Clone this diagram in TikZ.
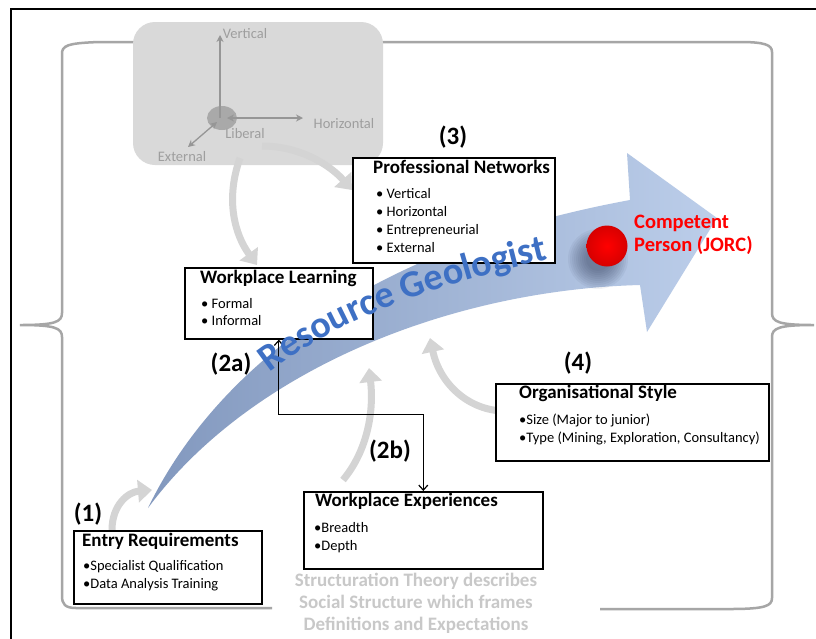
\documentclass[tikz,border=0pt]{standalone}
\usepackage{fontspec}
\setmainfont{Carlito}
\usetikzlibrary{arrows.meta,decorations.text}
\definecolor{frameg}{RGB}{166,166,166}
\definecolor{panelg}{RGB}{217,217,217}
\definecolor{paneltxt}{RGB}{158,158,158}
\definecolor{axisg}{RGB}{150,150,150}
\definecolor{arrowg}{RGB}{212,212,212}
\definecolor{blueA}{RGB}{130,152,190}
\definecolor{blueB}{RGB}{188,206,234}
\definecolor{rgblue}{RGB}{62,112,196}
\definecolor{structg}{RGB}{200,200,200}
\definecolor{shadowc}{RGB}{40,50,80}
\begin{document}
\begin{tikzpicture}[x=1pt,y=-1pt,
  box/.style={draw=black, line width=1.6pt, fill=white, inner sep=0pt, anchor=north west},
  ttl/.style={font=\fontsize{19}{21}\selectfont\bfseries, anchor=base west, inner sep=0pt},
  itm/.style={font=\fontsize{14.5}{16}\selectfont, anchor=base west, inner sep=0pt},
  num/.style={font=\fontsize{25}{27}\selectfont\bfseries, inner sep=0pt},
  garrow/.style={draw=arrowg, line width=7pt, -{Triangle[width=22pt,length=14pt]}},
  conn/.style={draw=black, line width=1.2pt, {Straight Barb[length=5pt,width=9pt]}-{Straight Barb[length=5pt,width=9pt]}},
  ptxt/.style={text=paneltxt, font=\fontsize{14.5}{16}\selectfont, inner sep=0pt},
  paxis/.style={draw=axisg, line width=1.3pt, -{Stealth[length=7pt,width=7pt]}},
  paxis2/.style={draw=axisg, line width=1.3pt, {Stealth[length=7pt,width=7pt]}-{Stealth[length=7pt,width=7pt]}},
  redtext/.style={font=\fontsize{20.5}{22}\selectfont\bfseries, text=red, anchor=base west, inner sep=0pt}
]
\useasboundingbox (0,0) rectangle (816,638);
\fill[white] (0,0) rectangle (816,638);
% outer frame
\draw[line width=1.5pt] (11,660) -- (11,9) -- (840,9);
% big gray bracket
\draw[frameg, line width=2.5pt] (272,608) -- (76,608) .. controls (65,608) and (62,604) .. (62,596)
  -- (62,337) .. controls (62,328) and (55,325) .. (20,325) .. controls (55,325) and (62,322) .. (62,313)
  -- (62,54) .. controls (62,46) and (66,43) .. (100,42) -- (740,42)
  .. controls (765,42) and (772,45) .. (772,52) -- (772,313)
  .. controls (772,322) and (779,325) .. (814,325) .. controls (779,325) and (772,328) .. (772,337)
  -- (772,598) .. controls (772,606) and (765,609) .. (730,609) -- (600,609);
% gray panel
\fill[panelg, rounded corners=22pt] (133,22) rectangle (383,165);
\coordinate (o) at (220,118);
\fill[axisg, opacity=.7] (222,118) ellipse (15pt and 12pt);
\draw[paxis] (o) -- (220,35);
\draw[paxis2] (227,118) -- (303,118);
\draw[paxis2] (217,122) -- (188,147);
\node[ptxt] (lv) at (245,34) {Vertical};
\node[ptxt] (lh) at (344,124) {Horizontal};
\node[ptxt] (ll) at (245,134) {Liberal};
\node[ptxt] (le) at (182,157) {External};
% big blue arrow
\path[left color=blueA, right color=blueB] (148,508) .. controls (200,400) and (330,255) .. (630,200)
  -- (627,153) -- (717,218) -- (647,332) -- (640,285) .. controls (450,290) and (250,370) .. cycle;
% gray curved arrows
\coordinate (g1s) at (262,146); \coordinate (g1e) at (352,190);
\coordinate (g2s) at (240,158); \coordinate (g2e) at (257,265);
\coordinate (g3s) at (112,530); \coordinate (g3e) at (152,490);
\coordinate (g4s) at (343,480); \coordinate (g4e) at (369,368);
\coordinate (g5s) at (505,411); \coordinate (g5e) at (430,338);
\draw[garrow] (g1s) .. controls (300,146) and (330,165) .. (g1e);
\draw[garrow] (g2s) .. controls (225,200) and (235,235) .. (g2e);
\draw[garrow] (g3s) .. controls (112,505) and (128,492) .. (g3e);
\draw[garrow] (g4s) .. controls (368,450) and (374,410) .. (g4e);
\draw[garrow] (g5s) .. controls (470,411) and (440,385) .. (g5e);
% boxes
\node[box, minimum width=202pt, minimum height=105pt] (pn) at (352,157) {};
\node[ttl] (pnt) at (373,173) {Professional Networks};
\node[itm] (pn1) at (376,198) {• Vertical};
\node[itm] (pn2) at (376,216) {• Horizontal};
\node[itm] (pn3) at (376,234) {• Entrepreneurial};
\node[itm] (pn4) at (376,252) {• External};
\node[box, minimum width=188pt, minimum height=71pt] (wl) at (184,267) {};
\node[ttl] (wlt) at (200,283) {Workplace Learning};
\node[itm] (wl1) at (201,308) {• Formal};
\node[itm] (wl2) at (201,325) {• Informal};
\node[box, minimum width=188pt, minimum height=73pt] (er) at (73,530) {};
\node[ttl] (ert) at (82,546) {Entry Requirements};
\node[itm] (er1) at (83,570) {•Specialist Qualification};
\node[itm] (er2) at (83,588) {•Data Analysis Training};
\node[box, minimum width=239pt, minimum height=77pt] (we) at (303,491) {};
\node[ttl] (wet) at (315,506) {Workplace Experiences};
\node[itm] (we1) at (314,532) {•Breadth};
\node[itm] (we2) at (314,550) {•Depth};
\node[box, minimum width=273pt, minimum height=77pt] (os) at (495,383) {};
\node[ttl] (ost) at (519,398) {Organisational Style};
\node[itm] (os1) at (519,424) {•Size (Major to junior)};
\node[itm] (os2) at (519,442) {•Type (Mining, Exploration, Consultancy)};
% connector 2a/2b
\draw[conn] (wl.south) -- ++(0,75) -| (we.north);
% numbers
\node[num] (n3) at (453,137) {(3)};
\node[num] (n2a) at (231,364) {(2a)};
\node[num] (n1) at (88,514) {(1)};
\node[num] (n2b) at (390,451) {(2b)};
\node[num] (n4) at (578,363) {(4)};
% red ball with soft shadow
\foreach \r in {30,28,...,12}{
  \fill[shadowc, opacity=.06] (598,259) circle (\r pt);
}
\shade[inner color=red, outer color={rgb,255:red,215;green,0;blue,0}] (607,246) circle (20.5pt);
\node[redtext] (cp1) at (634,228) {Competent};
\node[redtext] (cp2) at (634,251) {Person (JORC)};
% resource geologist, curved along the arrow
\path[decorate, decoration={text along path, text align=center, text color=rgblue,
  text format delimiters={|}{|},
  text={|\fontsize{38}{40}\selectfont\bfseries|Resource Geologist}}]
  (262,379) .. controls (330,323) and (420,289) .. (558,257);
% structuration text
\node[text=structg, font=\fontsize{19}{22}\selectfont\bfseries, align=center, inner sep=0pt] (st) at (416,603)
  {Structuration Theory describes\\Social Structure which frames\\Definitions and Expectations};
\end{tikzpicture}
\end{document}
